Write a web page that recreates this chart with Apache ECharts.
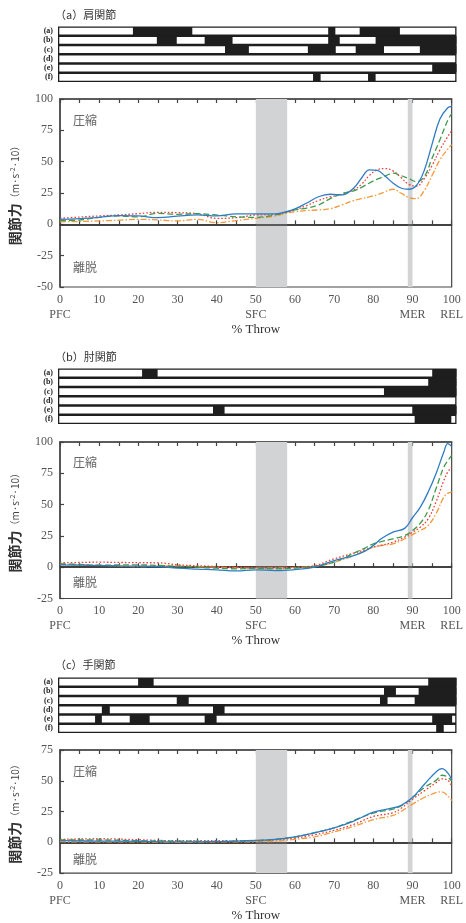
<!DOCTYPE html>
<html><head><meta charset="utf-8">
<script src="https://cdn.jsdelivr.net/npm/echarts@6/dist/echarts.min.js"></script>
<style>html,body{margin:0;padding:0;background:#fff}#c{width:466px;height:923px}</style>
</head><body><div id="c"></div>
<script>
// ---------- data ----------
const xTickStep = 5;
const phaseTicks = [0, 50, 90, 100];
const phaseNames = ['PFC', 'SFC', 'MER', 'REL'];
const rowNames = ['(a)', '(b)', '(c)', '(d)', '(e)', '(f)'];
const panelTitles = ['（a）肩関節', '（b）肘関節', '（c）手関節'];
const seriesNames = ['blue', 'green', 'red', 'orange'];
const phaseBand1 = [50, 58];
const phaseBand2 = [88.8, 90];
const yRanges = [[-50, 100], [-25, 100], [-25, 75]];

// shoulder
const shoulderX = [0,5,10,15,20,25,30,35,40,45,50,55,58,60,63,66,69,72,75,77,79,81,83,85,87,89,91,93,95,97,99,100];
const shoulderBlue   = [4,4.6,5.6,7,6.7,5.3,6.5,7.5,6.7,8.3,8.3,8.3,10.3,12.3,17,22,24,23.5,29,37,43.5,43,38.5,33,29,28,31,43,64,84,93,94];
const shoulderGreen  = [3,3.5,5.6,6.7,6,8.8,8,8.5,7.5,6,5.6,7.5,10,11.5,13,15.5,20.5,24.5,26.7,29.5,33,36,38.5,40.8,39,36.5,34,38,52.8,67.5,83,88.3];
const shoulderRed    = [4.8,5.8,6.7,7.5,8.5,9.6,9.3,8.5,4.8,5.3,7.5,8,9.5,11.5,15,19,22,24,27.5,32,39,43.5,44.5,42.7,37.5,32,30.5,36.5,47,59.5,70,74.7];
const shoulderOrange = [2,2.3,2.7,3.3,4,3.5,2.7,4,1.3,3,4.8,6.7,9.3,10,11,11.5,12.5,15.5,19,20.5,22,23.5,26,28,25,21.5,20.5,27,39,51.5,60,63.5];

// elbow
const elbowX = [0,5,10,15,20,25,30,35,40,45,50,55,60,65,70,75,78,80,82,85,88,90,92,94,96,98,99,100];
const elbowBlue   = [1.9,1.6,1.3,1,0.8,0.5,-0.8,-1.5,-2.1,-3,-2.1,-2.7,-1.9,0,5.3,9.3,13,17.3,22.7,28,31,39.5,48,60,74.7,92,98.7,96.5];
const elbowGreen  = [2.7,2.2,1.6,1.8,1.9,1.4,0.8,0,-0.8,-1.3,-1,-1.3,-0.8,0.5,4,11.2,15.5,18.7,20.5,22.7,25.3,29.3,35.2,45.3,62.7,80,85,89.3];
const elbowRed    = [3.5,3.8,4,3.8,3.6,3.5,1.9,1.2,0.5,0,-0.5,-0.8,0,1.3,6.7,11.2,14,16,17.5,20,24,28,32,38.7,52,69.3,76,80];
const elbowOrange = [2.1,1.9,1.6,1,0.5,0.8,1.1,0.5,0,-0.5,-0.8,-0.5,-0.3,0.8,4,9.3,13.5,16,17.3,18.7,22.7,26,29.3,33.3,42.7,56,59,60];

// wrist
const wristX = [0,10,20,30,40,45,50,55,60,65,70,75,80,85,87,90,93,96,97.5,99,100];
const wristBlue   = [1.3,1,0.8,0.3,0.5,1,1.6,2.4,4.5,7.7,11.7,17.3,24.5,27.9,29.8,36.4,47,57.2,59.8,56.4,51];
const wristGreen  = [1.9,1.9,1.3,1,0.8,1,1.3,2.5,4.5,7.8,11.7,17.8,23.7,27,29.5,36.4,44.4,50.3,54.5,53,49.7];
const wristRed    = [2.4,2.9,2.1,1.3,1.3,1.2,1.1,2,3.5,6.2,9.8,14.6,21,24,27.5,35,41.8,48.4,51.5,50.5,45.7];
const wristOrange = [0.5,0.4,0.3,0,0.3,0.4,0.5,1,2.4,4.5,8.5,13,18.4,21.8,25,31,36.4,40.4,41,37.8,33.8];

// black segments in the activity strips: [row, start, end]
const shoulderStrip = [[0,18.8,33.7],[0,67.8,69.6],[0,75.7,85.8],
  [1,24.8,29.8],[1,36.8,43.8],[1,67.8,70.7],[1,79.7,100],
  [2,41.9,47.9],[2,62.7,69.7],[2,74.7,81.8],[2,90.8,100],
  [4,93.9,100],
  [5,64.0,65.9],[5,77.8,79.7]];
const elbowStrip = [[0,21.1,25],[0,93.9,100],
  [1,92.9,100],
  [2,81.8,100],
  [4,38.9,41.8],[4,88.9,100],
  [5,89.5,98.7]];
const wristStrip = [[0,20.1,24],[0,92.9,100],
  [1,81.8,84.8],[1,90.5,100],
  [2,29.8,32.8],[2,80.8,82.7],[2,89.5,100],
  [3,11,13],[3,38.9,41.8],
  [4,9.3,11],[4,18,23],[4,36.8,39.8],[4,93.9,98.9],
  [5,94.9,96.8]];

// ---------- layout / style ----------
const panels = [
  {x: shoulderX, ys: [shoulderBlue, shoulderGreen, shoulderRed, shoulderOrange], strip: shoulderStrip,
   titleTop: 4, stripTop: 26.5, plotTop: 99, plotH: 188, ann: [121, 268]},
  {x: elbowX, ys: [elbowBlue, elbowGreen, elbowRed, elbowOrange], strip: elbowStrip,
   titleTop: 346, stripTop: 368.5, plotTop: 442, plotH: 156.5, ann: [463, 583]},
  {x: wristX, ys: [wristBlue, wristGreen, wristRed, wristOrange], strip: wristStrip,
   titleTop: 654, stripTop: 677.5, plotTop: 750, plotH: 125, ann: [772, 860]}
];
const lineStyles = [
  {color: '#2f7cc4', type: 'solid'},
  {color: '#3f9a4c', type: [6, 3]},
  {color: '#e8403a', type: [1.6, 2]},
  {color: '#f39a3a', type: [6, 2, 1.5, 2]}
];
const SERIF = '"Liberation Serif","DejaVu Serif",serif';
const JP = '"Noto Sans CJK JP",sans-serif';
const LEFT = 57.5, WIDTH = 398.5;

const grid = [], xAxis = [], yAxis = [], series = [], title = [], graphic = [];
const phaseOf = v => { const i = phaseTicks.indexOf(v); return i >= 0 ? phaseNames[i] : ''; };

function stripRect(inset) {
  return (params, api) => {
    const a = api.coord([api.value(1), api.value(0)]);
    const b = api.coord([api.value(2), api.value(0)]);
    const h = api.size([0, 1])[1];
    return {type: 'rect',
      shape: {x: a[0] + inset[0], y: a[1] - h / 2 + inset[1], width: b[0] - a[0] - 2 * inset[0], height: h - 2 * inset[1]},
      style: {fill: inset[2]}};
  };
}

panels.forEach((p, k) => {
  title.push({text: panelTitles[k], left: 50, top: p.titleTop,
    textStyle: {fontFamily: JP, fontSize: 11, fontWeight: 'normal', color: '#333'}});
  // strip grid
  const gs = grid.length, xs = xAxis.length, ys = yAxis.length;
  grid.push({left: LEFT + 0.5, width: WIDTH, top: p.stripTop, height: 55.5,
    show: true, backgroundColor: '#1e1e1e', borderWidth: 0});
  xAxis.push({gridIndex: gs, type: 'value', min: 0, max: 100, show: false});
  yAxis.push({gridIndex: gs, type: 'category', data: rowNames, inverse: true,
    axisLine: {show: false}, axisTick: {show: false}, splitLine: {show: false},
    axisLabel: {interval: 0, fontFamily: SERIF, fontSize: 8, fontWeight: 'bold', color: '#222', margin: 5}});
  const rowBg = rowNames.map((n, i) => [i, 0, 100]);
  series.push({type: 'custom', xAxisIndex: xs, yAxisIndex: ys, data: rowBg, silent: true,
    encode: {x: [1, 2], y: 0}, renderItem: stripRect([1.3, 1.2, '#ffffff'])});
  series.push({type: 'custom', xAxisIndex: xs, yAxisIndex: ys, data: p.strip, silent: true,
    encode: {x: [1, 2], y: 0}, renderItem: stripRect([0, 0.5, '#1e1e1e'])});

  // plot grid
  const gp = grid.length, xp = xAxis.length, yp = yAxis.length;
  grid.push({left: LEFT, width: WIDTH, top: p.plotTop, height: p.plotH,
    show: true, borderColor: '#444', borderWidth: 1.2});
  xAxis.push({gridIndex: gp, type: 'value', min: 0, max: 100, interval: xTickStep,
    position: 'bottom',
    axisLine: {lineStyle: {color: '#444', width: 1.5}},
    axisTick: {inside: true, length: 4, lineStyle: {color: '#444', width: 1.2}},
    splitLine: {show: false},
    axisLabel: {fontFamily: SERIF, fontSize: 12, color: '#555', margin: 5, lineHeight: 15,
      formatter: v => (v % 10 !== 0) ? '' : (phaseOf(v) ? v + '\n' + phaseOf(v) : String(v))},
    name: '% Throw', nameLocation: 'middle', nameGap: 28,
    nameTextStyle: {fontFamily: SERIF, fontSize: 13, color: '#333'}});
  xAxis.push({gridIndex: gp, type: 'value', min: 0, max: 100, interval: xTickStep,
    position: 'top',
    axisLine: {lineStyle: {color: '#444', width: 1.5}},
    axisTick: {inside: true, length: 4, lineStyle: {color: '#444', width: 1.2}},
    splitLine: {show: false}, axisLabel: {show: false}});
  yAxis.push({gridIndex: gp, type: 'value', min: yRanges[k][0], max: yRanges[k][1], interval: 25,
    axisLine: {show: true, lineStyle: {color: '#444', width: 1.5}},
    axisTick: {show: true, inside: true, length: 4, lineStyle: {color: '#444', width: 1.2}},
    splitLine: {show: false},
    axisLabel: {fontFamily: SERIF, fontSize: 12, color: '#555', margin: 7},
    name: '{b|関節力}{s|（m·s}{sup|-2}{s|·10）}', nameLocation: 'middle', nameRotate: 90, nameGap: 38,
    nameTextStyle: {rich: {
      b: {fontFamily: JP, fontSize: 14, fontWeight: 'bold', color: '#333'},
      s: {fontFamily: JP, fontSize: 10, color: '#444'},
      sup: {fontFamily: JP, fontSize: 7, color: '#444', padding: [0, 0, 6, 0]}
    }}});
  // background bands and zero line
  series.push({type: 'line', xAxisIndex: xp, yAxisIndex: yp, data: [], z: 1, silent: true,
    markArea: {silent: true, itemStyle: {color: '#d2d3d5'},
      data: [[{xAxis: phaseBand1[0]}, {xAxis: phaseBand1[1]}], [{xAxis: phaseBand2[0]}, {xAxis: phaseBand2[1]}]]},
    markLine: {silent: true, symbol: 'none', label: {show: false},
      lineStyle: {color: '#333', width: 1.5, type: 'solid'}, data: [{yAxis: 0}]}});
  p.ys.forEach((vals, j) => {
    series.push({type: 'line', name: seriesNames[j], xAxisIndex: xp, yAxisIndex: yp,
      data: p.x.map((xv, i) => [xv, vals[i]]), smooth: 0.4, showSymbol: false, symbol: 'none',
      lineStyle: {color: lineStyles[j].color, type: lineStyles[j].type, width: 1.3}, z: 10 - j});
  });
  graphic.push({type: 'text', left: 73, top: p.ann[0] - 7,
    style: {text: '圧縮', font: '12px "Noto Sans CJK JP"', fill: '#666'}});
  graphic.push({type: 'text', left: 73, top: p.ann[1] - 7,
    style: {text: '離脱', font: '12px "Noto Sans CJK JP"', fill: '#666'}});
});

const chart = echarts.init(document.getElementById('c'), null, {renderer: 'canvas'});
chart.setOption({animation: false, backgroundColor: '#fff', title, grid, xAxis, yAxis, series, graphic});
</script>
</body></html>
